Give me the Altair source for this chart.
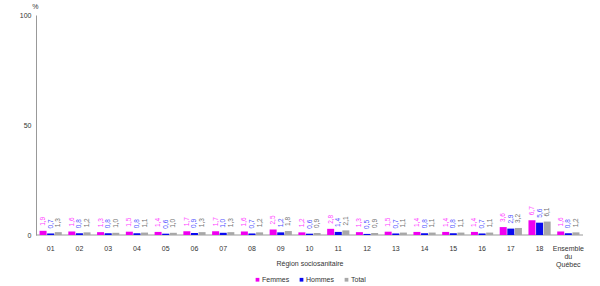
import altair as alt
import pandas as pd

regions = ["01", "02", "03", "04", "05", "06", "07", "08", "09", "10",
           "11", "12", "13", "14", "15", "16", "17", "18", "Ensemble du Québec"]
femmes = [1.9, 1.6, 1.3, 1.5, 1.4, 1.7, 1.7, 1.6, 2.5, 1.2,
          2.8, 1.3, 1.5, 1.4, 1.4, 1.4, 3.6, 6.7, 1.6]
hommes = [0.7, 0.8, 0.8, 0.8, 0.6, 0.9, 1.0, 0.7, 1.2, 0.6,
          1.4, 0.5, 0.7, 0.8, 0.8, 0.7, 2.9, 5.6, 0.8]
total = [1.3, 1.2, 1.0, 1.1, 1.0, 1.3, 1.3, 1.2, 1.8, 0.9,
         2.1, 0.9, 1.1, 1.1, 1.1, 1.1, 3.2, 6.1, 1.2]
series = ["Femmes", "Hommes", "Total"]

rows = []
for i, r in enumerate(regions):
    for s, vals in zip(series, [femmes, hommes, total]):
        v = vals[i]
        rows.append({"region": r, "serie": s, "value": v,
                     "label": f"{v:.1f}".replace(".", ",")})
df = pd.DataFrame(rows)

FONT = "Liberation Sans"
bar_colors = ["#F000F0", "#0A0AF0", "#A8A8A8"]
label_colors = ["#FF40FF", "#5050FF", "#707070"]

x = alt.X("region:N", sort=regions, title="Région sociosanitaire",
          scale=alt.Scale(paddingInner=0.22, paddingOuter=0.12),
          axis=alt.Axis(labelAngle=0, labelFontSize=7, labelFont=FONT, labelColor="#333",
                        titleFont=FONT, titleFontSize=7, titleFontWeight="normal",
                        titleColor="#333", titleY=24, domain=False, ticks=False,
                        labelPadding=9, labelLineHeight=8,
                        labelExpr="datum.label == 'Ensemble du Québec' ? ['Ensemble', 'du', 'Québec'] : datum.label"))
y = alt.Y("value:Q", scale=alt.Scale(domain=[0, 100], nice=False),
          axis=alt.Axis(values=[0, 50, 100], title="%", titleAngle=0, titleAnchor="end",
                        titleX=2, titleY=-6, titleFont=FONT, titleFontSize=7,
                        titleFontWeight="normal", titleColor="#333",
                        labelFont=FONT, labelFontSize=7, labelColor="#333",
                        grid=False, ticks=False, domainColor="#999", labelPadding=5))

base = alt.Chart(df)

bars = base.mark_bar(size=7).encode(
    x=x, y=y,
    xOffset=alt.XOffset("serie:N", sort=series, scale=alt.Scale(paddingInner=0.05)),
    color=alt.Color("serie:N", sort=series,
                    scale=alt.Scale(domain=series, range=bar_colors),
                    legend=alt.Legend(title=None, orient="none", legendX=218, legendY=261,
                                      direction="horizontal", symbolType="square",
                                      symbolSize=14, symbolStrokeWidth=0, labelFont=FONT,
                                      labelFontSize=7, labelColor="#333",
                                      columnPadding=8, labelOffset=1)),
)

labels = base.mark_text(angle=270, align="left", baseline="middle", dx=5,
                        fontSize=6.5, font=FONT).encode(
    x=x, y=y,
    xOffset=alt.XOffset("serie:N", sort=series, scale=alt.Scale(paddingInner=0.05)),
    text="label:N",
    color=alt.Color("serie:N", scale=alt.Scale(domain=series, range=label_colors), legend=None),
)

floor = alt.Chart(pd.DataFrame({"v": [0]})).mark_rule(color="#999", strokeWidth=1).encode(
    y=alt.Y("v:Q", scale=alt.Scale(domain=[0, 100], nice=False)))

chart = alt.layer(floor, bars, labels).resolve_scale(color="independent").properties(
    width=547, height=220,
    autosize=alt.AutoSizeParams(type="none"),
    padding={"left": 36, "top": 15, "right": 17, "bottom": 51},
).configure_view(stroke=None)

chart.save("out.html", embed_options={"renderer": "svg", "actions": False})
